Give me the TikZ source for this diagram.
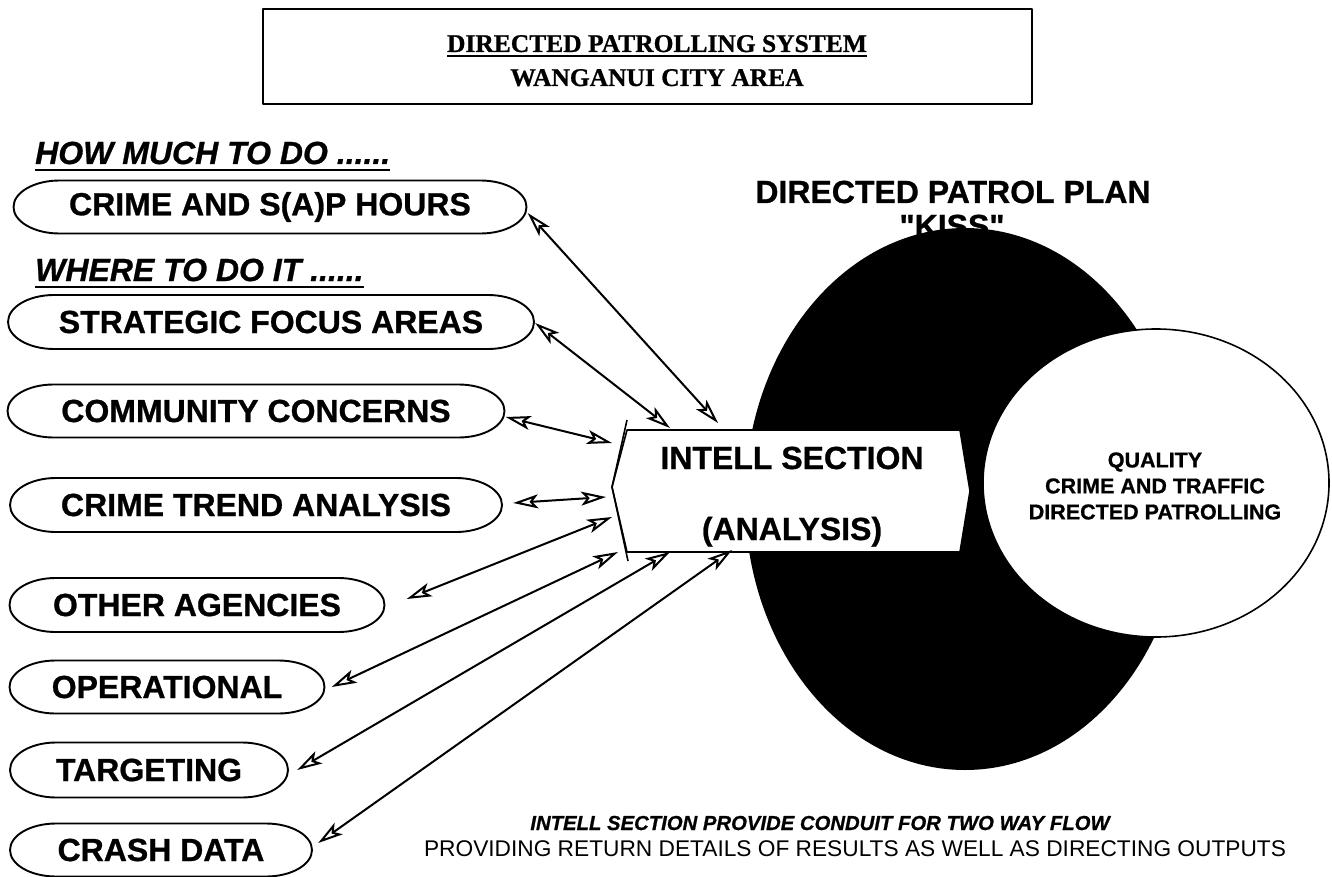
\documentclass[tikz,border=0pt]{standalone}
\usepackage{fontspec}
\setmainfont{Liberation Serif}[BoldFeatures={FakeBold=0.8}]
\setsansfont{Liberation Sans}[BoldFeatures={FakeBold=0.8},BoldItalicFeatures={FakeBold=0.8}]
\newfontfamily\kissfont{Liberation Sans}[BoldFeatures={FakeBold=0.8}]
\usetikzlibrary{arrows.meta,calc,shapes.geometric}
\tikzset{
  ovaltext/.style={inner sep=0pt, font=\sffamily\bfseries\fontsize{32pt}{38pt}\selectfont},
  ovalline/.style={line width=1.9pt},
  hdr/.style={inner sep=0pt, anchor=base west, font=\sffamily\bfseries\itshape\fontsize{32pt}{38pt}\selectfont},
  ttl/.style={inner sep=0pt, anchor=base, font=\rmfamily\bfseries\fontsize{25.5pt}{30pt}\selectfont},
  big/.style={inner sep=0pt, anchor=base, font=\sffamily\bfseries\fontsize{32pt}{38pt}\selectfont},
  circtext/.style={inner sep=0pt, align=center, font=\sffamily\bfseries\fontsize{21.5pt}{26pt}\selectfont},
  link/.style={line width=2pt, {Stealth[open,length=25pt,width=14pt,inset=6pt]}-{Stealth[open,length=25pt,width=14pt,inset=6pt]}},
  uline/.style={line width=2.6pt}
}
\newcommand\ovalnode[6]{%
  \node[ovaltext, minimum width=#4pt, minimum height=#5pt] (#1) at (#2,#3) {#6};
  \draw[ovalline] (#2-#4/2+46,#3-#5/2) -- (#2+#4/2-46,#3-#5/2)
     arc[start angle=-90,end angle=90,x radius=46,y radius=#5/2]
     -- (#2-#4/2+46,#3+#5/2)
     arc[start angle=90,end angle=270,x radius=46,y radius=#5/2] -- cycle;
}
\begin{document}
\begin{tikzpicture}[x=1pt, y=-1pt, line join=round]
\useasboundingbox (0,0) rectangle (1332,877);
\fill[white] (0,0) rectangle (1332,877);

% title
\node[draw, line width=2pt, minimum width=769pt, minimum height=95pt, inner sep=0pt] (titlebox) at (647.5,56.5) {};
\node[ttl] (t1) at (657,52) {DIRECTED PATROLLING SYSTEM};
\draw[line width=2pt] ($(t1.base west)+(0,4)$) -- ($(t1.base east)+(0,4)$);
\node[ttl] (t2) at (657,86) {WANGANUI CITY AREA};

% headers
\node[hdr] (h1) at (35,164) {HOW MUCH TO DO ......};
\draw[uline] ($(h1.base west)+(0,6)$) -- ($(h1.base east)+(0,6)$);
\node[hdr] (h2) at (35,281) {WHERE TO DO IT ......};
\draw[uline] ($(h2.base west)+(0,6)$) -- ($(h2.base east)+(0,6)$);

% left ovals
\ovalnode{e1}{270}{207}{513}{53}{CRIME AND S(A)P HOURS}
\ovalnode{e2}{271}{322}{526}{54}{STRATEGIC FOCUS AREAS}
\ovalnode{e3}{256}{411}{497}{53}{COMMUNITY CONCERNS}
\ovalnode{e4}{256}{505}{492}{54}{CRIME TREND ANALYSIS}
\ovalnode{e5}{197}{605}{375}{54}{OTHER AGENCIES}
\ovalnode{e6}{167}{687}{315}{53}{OPERATIONAL}
\ovalnode{e7}{149}{770}{278}{55}{TARGETING}
\ovalnode{e8}{161}{850}{302}{53}{CRASH DATA}

% directed patrol plan
\node[big] (dpp) at (953,203) {DIRECTED PATROL PLAN};
\node[big, font=\kissfont\bfseries\fontsize{32pt}{38pt}\selectfont] (kiss) at (952,237) {"KISS"};
\fill[black] (965,499) ellipse [x radius=220, y radius=271];
\node[fill=white, draw, line width=1.6pt, ellipse, minimum width=346pt, minimum height=308pt, inner sep=0pt] (qual) at (1156,483) {};
\node[circtext] (qtext) at (1155,486) {QUALITY\\CRIME AND TRAFFIC\\DIRECTED PATROLLING};

% intell section
\node[inner sep=0pt, minimum width=358pt, minimum height=122pt] (intell) at (791,491) {};
\filldraw[fill=white, line width=1.6pt] (627,430) -- (960,430) -- (970,491) -- (960,552) -- (627,552) -- (612,487) -- cycle;
\draw[line width=1.6pt] (627,420) -- (612,487) -- (628,561);
\node[big] (in1) at (792,469) {INTELL SECTION};
\node[big] (in2) at (792,540) {(ANALYSIS)};

% connectors
\coordinate (i1) at (718,423);
\coordinate (i2) at (670,428);
\coordinate (i3) at (612,443);
\coordinate (i4) at (606,497);
\coordinate (i5) at (612,517);
\coordinate (i6) at (618,552);
\coordinate (i7) at (670,552);
\coordinate (i8) at (732,550);
\draw[link] ([shift={(1,6)}]e1.east) -- (i1);
\draw[link] ([shift={(1,1)}]e2.east) -- (i2);
\draw[link] ([shift={(1,6)}]e3.east) -- (i3);
\draw[link] ([shift={(11,-2)}]e4.east) -- (i4);
\draw[link] ([shift={(22,-6)}]e5.east) -- (i5);
\draw[link] ([shift={(7,0)}]e6.east) -- (i6);
\draw[link] ([shift={(9,0)}]e7.east) -- (i7);
\draw[link] ([shift={(6,-7)}]e8.east) -- (i8);

% bottom note
\node[inner sep=0pt, anchor=base, font=\sffamily\bfseries\itshape\fontsize{20.3pt}{24pt}\selectfont] (b1) at (820,830) {INTELL SECTION PROVIDE CONDUIT FOR TWO WAY FLOW};
\node[inner sep=0pt, anchor=base, font=\sffamily\fontsize{22.7pt}{27pt}\selectfont] (b2) at (855,856) {PROVIDING RETURN DETAILS OF RESULTS AS WELL AS DIRECTING OUTPUTS};
\end{tikzpicture}
\end{document}
